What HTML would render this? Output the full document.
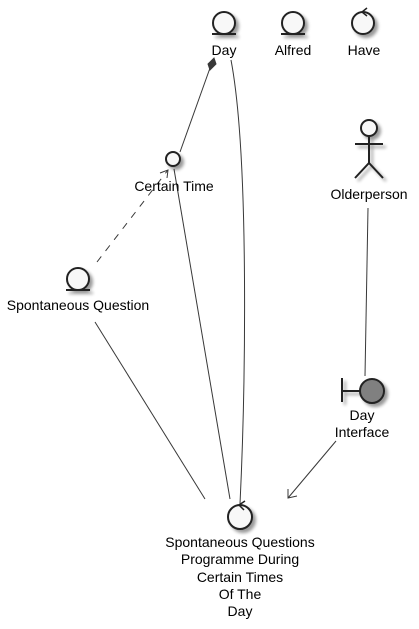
<!DOCTYPE html>
<html><head><meta charset="utf-8"><style>
html,body{margin:0;padding:0;background:#fff;}
svg{display:block;}
text{font-family:"Liberation Sans",sans-serif;font-size:14px;fill:#000;text-anchor:middle;}
</style></head><body>
<svg width="419" height="629" viewBox="0 0 419 629" xmlns="http://www.w3.org/2000/svg">
<defs>
<filter id="sh" x="-50%" y="-50%" width="200%" height="200%"><feGaussianBlur in="SourceAlpha" stdDeviation="1.5"/><feOffset dx="3" dy="3"/><feComponentTransfer><feFuncA type="linear" slope="0.4"/></feComponentTransfer><feMerge><feMergeNode/><feMergeNode in="SourceGraphic"/></feMerge></filter>
</defs>
<g stroke="#383838" fill="none" stroke-width="1">
<line x1="180" y1="152" x2="210" y2="68"/>
<polygon points="214,58 216,64 210,70 208,64" fill="#383838"/>
<path d="M231 60 C 250 160, 245 400, 240 504"/>
<line x1="174" y1="169" x2="230" y2="499"/>
<line x1="97" y1="262" x2="168" y2="170" stroke-dasharray="7,7"/>
<polyline points="160,173 168,170 167,178"/>
<line x1="95" y1="322" x2="205" y2="499"/>
<line x1="368" y1="208" x2="365" y2="376"/>
<line x1="336" y1="441" x2="288" y2="498"/>
<polyline points="288,489 288,498 297,496"/>
</g>
<g stroke="#222" stroke-width="2" fill="#f8f8f8" filter="url(#sh)">
<circle cx="224" cy="23" r="11"/>
<line x1="212" y1="34" x2="236" y2="34"/>
<circle cx="293" cy="23" r="11"/>
<line x1="281" y1="34" x2="305" y2="34"/>
<circle cx="363" cy="23" r="11"/>
<circle cx="173" cy="159" r="7"/>
<circle cx="78" cy="279" r="11"/>
<line x1="66" y1="290" x2="90" y2="290"/>
<circle cx="369" cy="128" r="8"/>
<line x1="369" y1="136" x2="369" y2="163"/>
<line x1="355" y1="144" x2="383" y2="144"/>
<polyline points="355,178 369,163 383,178" fill="none"/>
<circle cx="372" cy="391" r="12" fill="#808080"/>
<line x1="342" y1="378" x2="342" y2="402"/>
<line x1="342" y1="391" x2="360" y2="391"/>
<circle cx="240" cy="517" r="12"/>
</g>
<g stroke="#222" stroke-width="1.5" fill="none">
<polyline points="367,8 362,12 367,16"/>
<polyline points="245,501 239,505 244,510"/>
</g>
<text x="224" y="55">Day</text>
<text x="293" y="55">Alfred</text>
<text x="364" y="55">Have</text>
<text x="174" y="191">Certain Time</text>
<text x="78" y="310">Spontaneous Question</text>
<text x="369" y="199">Olderperson</text>
<text x="362" y="420">Day</text>
<text x="362" y="437">Interface</text>
<text x="240" y="547">Spontaneous Questions</text>
<text x="240" y="564">Programme During</text>
<text x="240" y="582">Certain Times</text>
<text x="240" y="599">Of The</text>
<text x="240" y="616">Day</text>
</svg>
</body></html>
